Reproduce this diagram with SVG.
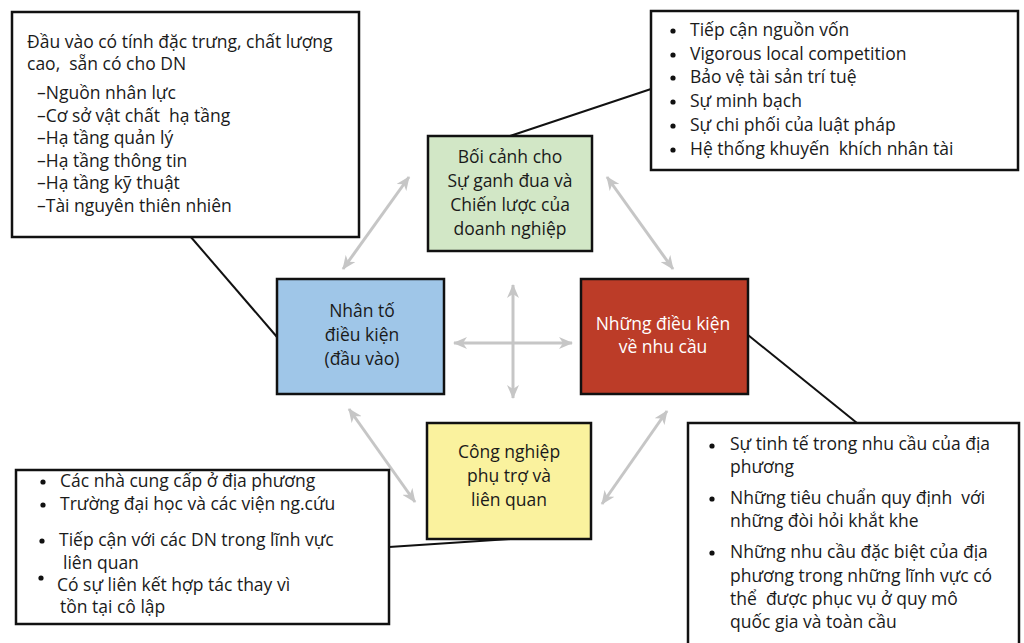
<svg xmlns="http://www.w3.org/2000/svg" width="1024" height="643" viewBox="0 0 1024 643">
<defs>
<marker id="ah" viewBox="0 0 14 12" refX="13" refY="6" markerWidth="14" markerHeight="12" markerUnits="userSpaceOnUse" orient="auto-start-reverse">
<path d="M0,0 L14,6 L0,12 L4,6 Z" fill="#c6c6c6"/>
</marker>
</defs>
<style>
text{font-family:"Open Sans","Noto Sans","DejaVu Sans",sans-serif;font-size:17.5px;fill:#1a1a1a;white-space:pre}
.box{stroke:#111;stroke-width:2.5}
.c{text-anchor:middle}
.w{fill:#fff}
.arr{stroke:#c6c6c6;stroke-width:3;fill:none;marker-start:url(#ah);marker-end:url(#ah)}
.ln{stroke:#111;stroke-width:2;fill:none}
</style>
<rect width="1024" height="643" fill="#fff"/>
<g id="connectors">
<line class="arr" x1="343" y1="269" x2="409" y2="177"/>
<line class="arr" x1="607" y1="177" x2="673" y2="269"/>
<line class="arr" x1="349" y1="409" x2="415" y2="502"/>
<line class="arr" x1="602" y1="504" x2="667" y2="411"/>
<line class="arr" x1="454" y1="343" x2="572" y2="343"/>
<line class="arr" x1="513" y1="285" x2="513" y2="398"/>
<line class="ln" x1="190" y1="236" x2="277" y2="337"/>
<line class="ln" x1="510" y1="136" x2="651" y2="89"/>
<line class="ln" x1="748" y1="335" x2="857" y2="423"/>
<line class="ln" x1="510" y1="539" x2="389" y2="547"/>
</g>
<g id="box-inputs">
<rect class="box" x="12" y="12" width="347" height="225" fill="#fff"/>
<text x="27" y="48">Đầu vào có tính đặc trưng, chất lượng</text>
<text x="27" y="70">cao,  sẵn có cho DN</text>
<text x="37" y="99">–Nguồn nhân lực</text>
<text x="37" y="122">–Cơ sở vật chất  hạ tầng</text>
<text x="37" y="144">–Hạ tầng quản lý</text>
<text x="37" y="167">–Hạ tầng thông tin</text>
<text x="37" y="189">–Hạ tầng kỹ thuật</text>
<text x="37" y="212">–Tài nguyên thiên nhiên</text>
</g>
<g id="box-context">
<rect class="box" x="651" y="11" width="367" height="159" fill="#fff"/>
<g fill="#111"><circle cx="673" cy="31" r="2.6"/><circle cx="673" cy="55" r="2.6"/><circle cx="673" cy="78" r="2.6"/><circle cx="673" cy="102" r="2.6"/><circle cx="673" cy="126" r="2.6"/><circle cx="673" cy="150" r="2.6"/></g>
<text x="690" y="36">Tiếp cận nguồn vốn</text>
<text x="690" y="60">Vigorous local competition</text>
<text x="690" y="83">Bảo vệ tài sản trí tuệ</text>
<text x="690" y="107">Sự minh bạch</text>
<text x="690" y="131">Sự chi phối của luật pháp</text>
<text x="690" y="155">Hệ thống khuyến  khích nhân tài</text>
</g>
<g id="node-strategy">
<rect class="box" x="428" y="136" width="164" height="115" fill="#d2e7c6"/>
<text class="c" x="510" y="163">Bối cảnh cho</text>
<text class="c" x="510" y="187">Sự ganh đua và</text>
<text class="c" x="510" y="211">Chiến lược của</text>
<text class="c" x="510" y="235">doanh nghiệp</text>
</g>
<g id="node-factor">
<rect class="box" x="277" y="279" width="167" height="115" fill="#9fc6e8"/>
<text class="c" x="362" y="317">Nhân tố</text>
<text class="c" x="362" y="341">điều kiện</text>
<text class="c" x="362" y="365">(đầu vào)</text>
</g>
<g id="node-demand">
<rect class="box" x="581" y="279" width="167" height="115" fill="#bc3c28"/>
<text class="c w" x="663" y="330">Những điều kiện</text>
<text class="c w" x="663" y="353">về nhu cầu</text>
</g>
<g id="node-related">
<rect class="box" x="427" y="423" width="164" height="116" fill="#faf29e"/>
<text class="c" x="509" y="458">Công nghiệp</text>
<text class="c" x="509" y="482">phụ trợ và</text>
<text class="c" x="509" y="506">liên quan</text>
</g>
<g id="box-related">
<rect class="box" x="16" y="470" width="373" height="154" fill="#fff"/>
<g fill="#111"><circle cx="43" cy="482" r="2.6"/><circle cx="43" cy="505" r="2.6"/><circle cx="42" cy="541" r="2.6"/><circle cx="41" cy="578" r="2.6"/></g>
<text x="60" y="487">Các nhà cung cấp ở địa phương</text>
<text x="60" y="510">Trường đại học và các viện ng.cứu</text>
<text x="59" y="546">Tiếp cận với các DN trong lĩnh vực</text>
<text x="63" y="569">liên quan</text>
<text x="57" y="591">Có sự liên kết hợp tác thay vì</text>
<text x="60" y="613">tồn tại cô lập</text>
</g>
<g id="box-demand">
<rect class="box" x="688" y="423" width="331" height="240" fill="#fff"/>
<g fill="#111"><circle cx="712" cy="446" r="2.6"/><circle cx="712" cy="499" r="2.6"/><circle cx="712" cy="553" r="2.6"/></g>
<text x="730" y="450">Sự tinh tế trong nhu cầu của địa</text>
<text x="730" y="473">phương</text>
<text x="730" y="504">Những tiêu chuẩn quy định  với</text>
<text x="730" y="527">những đòi hỏi khắt khe</text>
<text x="730" y="558">Những nhu cầu đặc biệt của địa</text>
<text x="730" y="582">phương trong những lĩnh vực có</text>
<text x="730" y="605">thể  được phục vụ ở quy mô</text>
<text x="730" y="628">quốc gia và toàn cầu</text>
</g>
</svg>
